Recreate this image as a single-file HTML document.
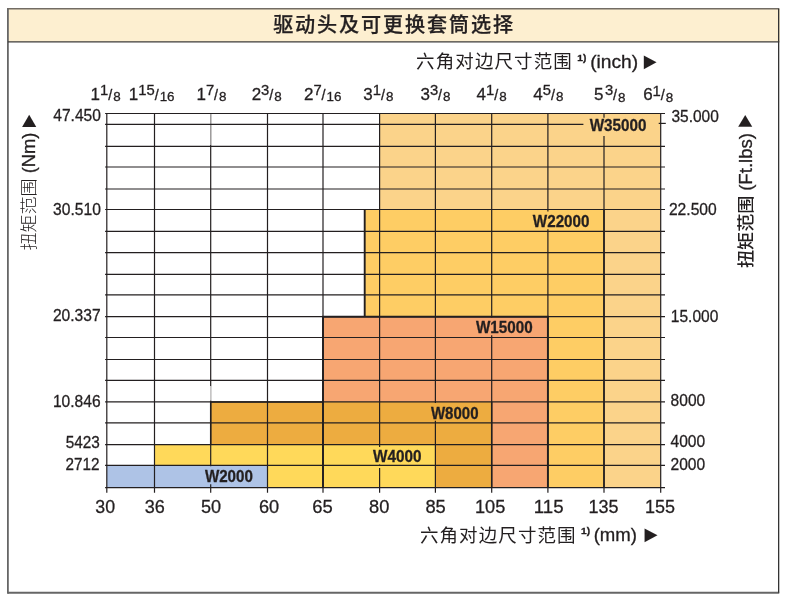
<!DOCTYPE html>
<html lang="zh-CN"><head><meta charset="utf-8">
<title>驱动头及可更换套筒选择</title>
<style>html,body{margin:0;padding:0;background:#fff;}svg{display:block;}text{font-family:"Liberation Sans", "Noto Sans CJK SC", sans-serif;fill:#231f20;}.r{stroke:#231f20;stroke-width:0.3px;}.b{stroke:#231f20;stroke-width:0.3px;}.tri{font-family:"DejaVu Sans",sans-serif;}</style>
</head><body>
<svg width="790" height="597" viewBox="0 0 790 597">
<rect width="790" height="597" fill="#ffffff"/>
<rect x="7.9" y="8.8" width="772.05" height="33.05" fill="#fdefd0"/>
<line x1="7" y1="8.7" x2="779.25" y2="8.7" stroke="#726c64" stroke-width="1.5"/>
<line x1="7.9" y1="8.8" x2="7.9" y2="593.65" stroke="#666666" stroke-width="1.8"/>
<line x1="7.9" y1="592.75" x2="779.25" y2="592.75" stroke="#666666" stroke-width="1.8"/>
<line x1="778.65" y1="8.8" x2="778.65" y2="592.75" stroke="#333333" stroke-width="1.3"/>
<line x1="7.9" y1="41.85" x2="779.25" y2="41.85" stroke="#3d3b3a" stroke-width="1.4"/>
<text x="394.1" y="32.3" text-anchor="middle" font-size="20.1" font-weight="500" letter-spacing="1.9" class="b" style="stroke-width:0.25px">驱动头及可更换套筒选择</text>
<rect x="379.6" y="113.5" width="281.1" height="374.1" fill="#fbd38a"/>
<rect x="364.7" y="209.5" width="239.3" height="278.1" fill="#fecd64"/>
<rect x="323" y="316.7" width="224.9" height="170.9" fill="#f7a672"/>
<rect x="210.7" y="401.9" width="281" height="85.7" fill="#edac40"/>
<rect x="154.5" y="444.7" width="280.9" height="42.9" fill="#ffd95a"/>
<rect x="106.8" y="465.3" width="160.7" height="22.3" fill="#aec3e6"/>
<line x1="106.8" y1="113.5" x2="106.8" y2="492.7" stroke="#231f20" stroke-width="1.2"/>
<line x1="154.5" y1="113.5" x2="154.5" y2="492.7" stroke="#231f20" stroke-width="1.2"/>
<line x1="210.7" y1="113.5" x2="210.7" y2="466.2" stroke="#231f20" stroke-width="1.2"/>
<line x1="210.7" y1="484.3" x2="210.7" y2="492.7" stroke="#231f20" stroke-width="1.2"/>
<line x1="267.5" y1="113.5" x2="267.5" y2="492.7" stroke="#231f20" stroke-width="1.2"/>
<line x1="323" y1="113.5" x2="323" y2="492.7" stroke="#231f20" stroke-width="1.2"/>
<line x1="379.6" y1="113.5" x2="379.6" y2="446.9" stroke="#231f20" stroke-width="1.2"/>
<line x1="379.6" y1="464.6" x2="379.6" y2="466" stroke="#231f20" stroke-width="1.2"/>
<line x1="379.6" y1="467.9" x2="379.6" y2="492.7" stroke="#231f20" stroke-width="1.2"/>
<line x1="435.4" y1="113.5" x2="435.4" y2="402.9" stroke="#231f20" stroke-width="1.2"/>
<line x1="435.4" y1="420.7" x2="435.4" y2="492.7" stroke="#231f20" stroke-width="1.2"/>
<line x1="491.7" y1="113.5" x2="491.7" y2="317.6" stroke="#231f20" stroke-width="1.2"/>
<line x1="491.7" y1="335.2" x2="491.7" y2="492.7" stroke="#231f20" stroke-width="1.2"/>
<line x1="547.9" y1="113.5" x2="547.9" y2="211.6" stroke="#231f20" stroke-width="1.2"/>
<line x1="547.9" y1="229.2" x2="547.9" y2="492.7" stroke="#231f20" stroke-width="1.2"/>
<line x1="604" y1="113.5" x2="604" y2="117.7" stroke="#231f20" stroke-width="1.2"/>
<line x1="604" y1="135.9" x2="604" y2="492.7" stroke="#231f20" stroke-width="1.2"/>
<line x1="660.7" y1="113.5" x2="660.7" y2="492.7" stroke="#231f20" stroke-width="1.2"/>
<line x1="210.7" y1="114.2" x2="210.7" y2="144.6" stroke="#ffffff" stroke-width="1.6"/>
<line x1="210.7" y1="114.2" x2="210.7" y2="144.6" stroke="#8d8b8b" stroke-width="1.1"/>
<line x1="210.7" y1="386.2" x2="210.7" y2="400.4" stroke="#ffffff" stroke-width="1.6"/>
<line x1="210.7" y1="386.2" x2="210.7" y2="400.4" stroke="#b9b8b8" stroke-width="1"/>
<line x1="105.1" y1="113.5" x2="665" y2="113.5" stroke="#231f20" stroke-width="1.2"/>
<line x1="105.1" y1="124.4" x2="583.4" y2="124.4" stroke="#231f20" stroke-width="1.2"/>
<line x1="658.7" y1="123.4" x2="665.8" y2="123.4" stroke="#231f20" stroke-width="1.2"/>
<line x1="105.1" y1="146.3" x2="665" y2="146.3" stroke="#231f20" stroke-width="1.2"/>
<line x1="105.1" y1="167" x2="665" y2="167" stroke="#231f20" stroke-width="1.2"/>
<line x1="105.1" y1="189" x2="665" y2="189" stroke="#231f20" stroke-width="1.2"/>
<line x1="105.1" y1="209.5" x2="665" y2="209.5" stroke="#231f20" stroke-width="1.2"/>
<line x1="105.1" y1="231.3" x2="665" y2="231.3" stroke="#231f20" stroke-width="1.2"/>
<line x1="105.1" y1="252.6" x2="665" y2="252.6" stroke="#231f20" stroke-width="1.2"/>
<line x1="105.1" y1="274.4" x2="665" y2="274.4" stroke="#231f20" stroke-width="1.2"/>
<line x1="105.1" y1="294.9" x2="665" y2="294.9" stroke="#231f20" stroke-width="1.2"/>
<line x1="105.1" y1="316.7" x2="665" y2="316.7" stroke="#231f20" stroke-width="1.2"/>
<line x1="105.1" y1="337.5" x2="665" y2="337.5" stroke="#231f20" stroke-width="1.2"/>
<line x1="105.1" y1="359.5" x2="665" y2="359.5" stroke="#231f20" stroke-width="1.2"/>
<line x1="105.1" y1="380.3" x2="665" y2="380.3" stroke="#231f20" stroke-width="1.2"/>
<line x1="105.1" y1="401.9" x2="665" y2="401.9" stroke="#231f20" stroke-width="1.2"/>
<line x1="105.1" y1="422.8" x2="665" y2="422.8" stroke="#231f20" stroke-width="1.2"/>
<line x1="105.1" y1="444.7" x2="665" y2="444.7" stroke="#231f20" stroke-width="1.2"/>
<line x1="105.1" y1="465.3" x2="665" y2="465.3" stroke="#231f20" stroke-width="1.2"/>
<line x1="105.1" y1="487.6" x2="665" y2="487.6" stroke="#231f20" stroke-width="1.2"/>
<path d="M364.7 316.7 V209.5" fill="none" stroke="#231f20" stroke-width="1.9" stroke-linejoin="miter"/>
<path d="M323 487.6 V316.7 H547.9 V487.6" fill="none" stroke="#231f20" stroke-width="1.9" stroke-linejoin="miter"/>
<path d="M604 209.5 V487.6" fill="none" stroke="#231f20" stroke-width="1.6" stroke-linejoin="miter"/>
<path d="M210.7 444.7 V401.9 H323" fill="none" stroke="#231f20" stroke-width="1.5" stroke-linejoin="miter"/>
<path d="M491.7 401.9 V487.6" fill="none" stroke="#231f20" stroke-width="1.5" stroke-linejoin="miter"/>
<text x="204.89" y="481.8" font-size="16.7" font-weight="700" textLength="48.04" lengthAdjust="spacingAndGlyphs" class="b">W2000</text>
<text x="373.09" y="461.7" font-size="16.7" font-weight="700" textLength="48.44" lengthAdjust="spacingAndGlyphs" class="b">W4000</text>
<text x="430.89" y="418.5" font-size="16.7" font-weight="700" textLength="47.63" lengthAdjust="spacingAndGlyphs" class="b">W8000</text>
<text x="475.89" y="332.8" font-size="16.7" font-weight="700" textLength="56.74" lengthAdjust="spacingAndGlyphs" class="b">W15000</text>
<text x="532.79" y="226.8" font-size="16.7" font-weight="700" textLength="56.74" lengthAdjust="spacingAndGlyphs" class="b">W22000</text>
<text x="589.69" y="131.2" font-size="16.7" font-weight="700" textLength="56.74" lengthAdjust="spacingAndGlyphs" class="b">W35000</text>
<text x="53.34" y="121" font-size="16.5" textLength="47.56" lengthAdjust="spacingAndGlyphs" class="r">47.450</text>
<text x="53.10" y="214.7" font-size="16.5" textLength="47.81" lengthAdjust="spacingAndGlyphs" class="r">30.510</text>
<text x="52.91" y="320.7" font-size="16.5" textLength="47.77" lengthAdjust="spacingAndGlyphs" class="r">20.337</text>
<text x="52.91" y="406.7" font-size="16.5" textLength="47.67" lengthAdjust="spacingAndGlyphs" class="r">10.846</text>
<text x="65.69" y="448" font-size="16.5" textLength="34.09" lengthAdjust="spacingAndGlyphs" class="r">5423</text>
<text x="65.53" y="470" font-size="16.5" textLength="33.93" lengthAdjust="spacingAndGlyphs" class="r">2712</text>
<text x="671.41" y="122.3" font-size="16.5" textLength="47.40" lengthAdjust="spacingAndGlyphs" class="r">35.000</text>
<text x="668.91" y="214.8" font-size="16.5" textLength="47.80" lengthAdjust="spacingAndGlyphs" class="r">22.500</text>
<text x="670.82" y="321.8" font-size="16.5" textLength="47.49" lengthAdjust="spacingAndGlyphs" class="r">15.000</text>
<text x="670.62" y="405.8" font-size="16.5" textLength="34.58" lengthAdjust="spacingAndGlyphs" class="r">8000</text>
<text x="670.54" y="446.7" font-size="16.5" textLength="34.67" lengthAdjust="spacingAndGlyphs" class="r">4000</text>
<text x="670.52" y="470" font-size="16.5" textLength="34.69" lengthAdjust="spacingAndGlyphs" class="r">2000</text>
<text x="95.32" y="513" font-size="19.1" textLength="19.77" lengthAdjust="spacingAndGlyphs" class="r">30</text>
<text x="144.71" y="513" font-size="19.1" textLength="20.08" lengthAdjust="spacingAndGlyphs" class="r">36</text>
<text x="200.88" y="513" font-size="19.1" textLength="20.13" lengthAdjust="spacingAndGlyphs" class="r">50</text>
<text x="258.98" y="513" font-size="19.1" textLength="20.23" lengthAdjust="spacingAndGlyphs" class="r">60</text>
<text x="312.36" y="513" font-size="19.1" textLength="20.51" lengthAdjust="spacingAndGlyphs" class="r">65</text>
<text x="369.01" y="513" font-size="19.1" textLength="20.31" lengthAdjust="spacingAndGlyphs" class="r">80</text>
<text x="425.40" y="513" font-size="19.1" textLength="20.36" lengthAdjust="spacingAndGlyphs" class="r">85</text>
<text x="475.01" y="513" font-size="19.1" textLength="30.35" lengthAdjust="spacingAndGlyphs" class="r">105</text>
<text x="533.74" y="513" font-size="19.1" textLength="29.81" lengthAdjust="spacingAndGlyphs" class="r">115</text>
<text x="588.53" y="513" font-size="19.1" textLength="30.03" lengthAdjust="spacingAndGlyphs" class="r">135</text>
<text x="645.03" y="513" font-size="19.1" textLength="30.03" lengthAdjust="spacingAndGlyphs" class="r">155</text>
<text class="r" x="90.61" y="99.5" font-size="17">1<tspan font-size="14.8" dy="-4.8" dx="0">1</tspan><tspan font-size="14.4" dy="4.8" dx="-0.1">/</tspan><tspan font-size="13.4" dy="1.8" dx="1.0">8</tspan></text>
<text class="r" x="128.81" y="99.5" font-size="17">1<tspan font-size="14.8" dy="-4.8" dx="0">15</tspan><tspan font-size="14.4" dy="4.8" dx="-0.1">/</tspan><tspan font-size="13.4" dy="1.8" dx="1.0">16</tspan></text>
<text class="r" x="196.51" y="99.5" font-size="17">1<tspan font-size="14.8" dy="-4.8" dx="0">7</tspan><tspan font-size="14.4" dy="4.8" dx="-0.1">/</tspan><tspan font-size="13.4" dy="1.8" dx="1.0">8</tspan></text>
<text class="r" x="251.65" y="99.5" font-size="17">2<tspan font-size="14.8" dy="-4.8" dx="0">3</tspan><tspan font-size="14.4" dy="4.8" dx="-0.1">/</tspan><tspan font-size="13.4" dy="1.8" dx="1.0">8</tspan></text>
<text class="r" x="303.95" y="99.5" font-size="17">2<tspan font-size="14.8" dy="-4.8" dx="0">7</tspan><tspan font-size="14.4" dy="4.8" dx="-0.1">/</tspan><tspan font-size="13.4" dy="1.8" dx="1.0">16</tspan></text>
<text class="r" x="363.35" y="99.5" font-size="17">3<tspan font-size="14.8" dy="-4.8" dx="0">1</tspan><tspan font-size="14.4" dy="4.8" dx="-0.1">/</tspan><tspan font-size="13.4" dy="1.8" dx="1.0">8</tspan></text>
<text class="r" x="420.45" y="99.5" font-size="17">3<tspan font-size="14.8" dy="-4.8" dx="0">3</tspan><tspan font-size="14.4" dy="4.8" dx="-0.1">/</tspan><tspan font-size="13.4" dy="1.8" dx="1.0">8</tspan></text>
<text class="r" x="476.61" y="99.5" font-size="17">4<tspan font-size="14.8" dy="-4.8" dx="0">1</tspan><tspan font-size="14.4" dy="4.8" dx="-0.1">/</tspan><tspan font-size="13.4" dy="1.8" dx="1.0">8</tspan></text>
<text class="r" x="533.31" y="99.5" font-size="17">4<tspan font-size="14.8" dy="-4.8" dx="0">5</tspan><tspan font-size="14.4" dy="4.8" dx="-0.1">/</tspan><tspan font-size="13.4" dy="1.8" dx="1.0">8</tspan></text>
<text class="r" x="593.92" y="99.8" font-size="17">5<tspan font-size="14.8" dy="-4.8" dx="1.6">3</tspan><tspan font-size="14.4" dy="4.8" dx="-0.1">/</tspan><tspan font-size="13.4" dy="1.8" dx="1.0">8</tspan></text>
<text class="r" x="643.14" y="100.4" font-size="17">6<tspan font-size="14.8" dy="-4.8" dx="0">1</tspan><tspan font-size="14.4" dy="4.8" dx="-0.1">/</tspan><tspan font-size="13.4" dy="1.8" dx="1.0">8</tspan></text>
<text x="416.1" y="68.2" font-size="18.5" letter-spacing="1.1">六角对边尺寸范围</text>
<text x="577.26" y="60.9" font-size="8.8" font-weight="700" textLength="9.05" lengthAdjust="spacingAndGlyphs" class="b">1)</text>
<text x="590.21" y="67.8" font-size="17.6" textLength="47.98" lengthAdjust="spacingAndGlyphs" class="r">(inch)</text>
<text class="tri" transform="translate(643.85 66.70) scale(1.0482 1.1184)" font-size="16">▶</text>
<text x="419.9" y="541.7" font-size="18.5" letter-spacing="1.1">六角对边尺寸范围</text>
<text x="581.06" y="534.4" font-size="8.8" font-weight="700" textLength="9.05" lengthAdjust="spacingAndGlyphs" class="b">1)</text>
<text x="593.65" y="541.3" font-size="17.6" textLength="43.30" lengthAdjust="spacingAndGlyphs" class="r">(mm)</text>
<text class="tri" transform="translate(644.45 540.30) scale(1.0646 1.1184)" font-size="16">▶</text>
<g transform="translate(0 250.6) rotate(-90)">
<text x="0" y="34.85" font-size="17.4" font-weight="300" fill="#2e2a2b" textLength="72.2" lengthAdjust="spacingAndGlyphs">扭矩范围</text>
<text x="77.26" y="35.1" font-size="18" textLength="40.67" lengthAdjust="spacingAndGlyphs" class="r">(Nm)</text>
<text class="tri" transform="translate(123.55 33.82) scale(0.9909 1.1592)" font-size="16">▶</text>
</g>
<g transform="translate(0 268.1) rotate(-90)">
<text x="0" y="752" font-size="17" font-weight="500" fill="#231f20" textLength="72.6" lengthAdjust="spacingAndGlyphs">扭矩范围</text>
<text x="77.25" y="752" font-size="18" textLength="57.91" lengthAdjust="spacingAndGlyphs" class="r">(Ft.lbs)</text>
<text class="tri" transform="translate(141.45 750.23) scale(0.9499 1.1511)" font-size="16">▶</text>
</g>
</svg>
</body></html>
